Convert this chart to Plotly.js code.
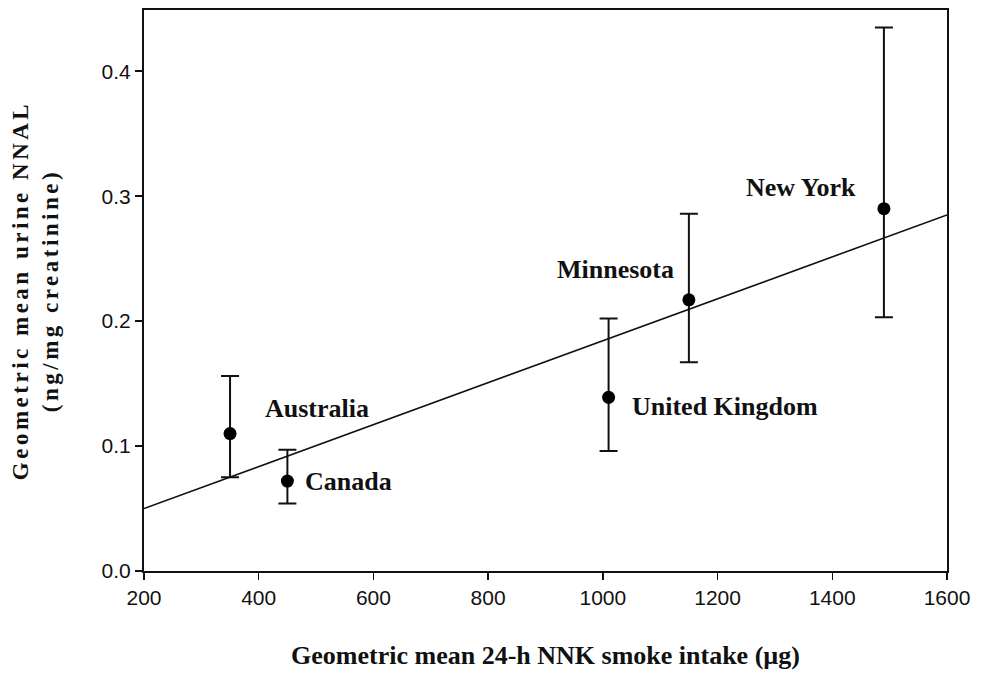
<!DOCTYPE html>
<html>
<head>
<meta charset="utf-8">
<script src="https://cdn.plot.ly/plotly-3.0.1.min.js"></script>
<style>
html,body{margin:0;padding:0;background:#fff;}
#chart{width:982px;height:675px;}
#chart .g-ytitle text{letter-spacing:3.5px;}
</style>
</head>
<body>
<div id="chart"></div>
<script>
// Data
const regions = ["Australia", "Canada", "United Kingdom", "Minnesota", "New York"];
const nnkIntake = [350, 450, 1010, 1150, 1490];
const nnalMean = [0.110, 0.072, 0.139, 0.217, 0.290];
const nnalUpper = [0.156, 0.097, 0.202, 0.286, 0.435];
const nnalLower = [0.075, 0.054, 0.096, 0.167, 0.203];
const fitX = [200, 1600];
const fitY = [0.050, 0.285];
const xTicks = [200, 400, 600, 800, 1000, 1200, 1400, 1600];
const yTicks = [0.0, 0.1, 0.2, 0.3, 0.4];

const errPlus = nnalUpper.map((u, i) => u - nnalMean[i]);
const errMinus = nnalMean.map((m, i) => m - nnalLower[i]);

const traces = [
  {
    x: fitX, y: fitY, mode: 'lines', type: 'scatter',
    line: {color: '#111', width: 1.6}, hoverinfo: 'skip', showlegend: false
  },
  {
    x: nnkIntake, y: nnalMean, text: regions, mode: 'markers', type: 'scatter',
    marker: {color: '#000', size: 13},
    error_y: {type: 'data', symmetric: false, array: errPlus, arrayminus: errMinus,
              color: '#111', thickness: 2, width: 9},
    showlegend: false
  }
];

const serif = '"Liberation Serif", "Times New Roman", serif';
const lab = (text, x, y, xanchor) => ({
  text: '<b>' + text + '</b>', x: x, y: y, xref: 'x', yref: 'y',
  xanchor: xanchor, yanchor: 'middle', showarrow: false,
  font: {family: serif, size: 26, color: '#111'}
});

const layout = {
  width: 982, height: 675,
  margin: {l: 144, r: 35, t: 10, b: 104},
  paper_bgcolor: '#fff', plot_bgcolor: '#fff',
  font: {family: '"Liberation Sans", Arial, sans-serif', color: '#111'},
  xaxis: {
    range: [200, 1600], tickvals: xTicks, ticktext: xTicks.map(String),
    ticks: 'outside', ticklen: 7, tickwidth: 1.5, tickcolor: '#111',
    showline: true, linecolor: '#111', linewidth: 2, mirror: true,
    showgrid: false, zeroline: false,
    tickfont: {size: 21, color: '#111'},
    title: {text: '<b>Geometric mean 24-h NNK smoke intake (µg)</b>',
            font: {family: serif, size: 26, color: '#111'}, standoff: 38}
  },
  yaxis: {
    range: [0, 0.449], tickvals: yTicks, ticktext: yTicks.map(v => v.toFixed(1)),
    ticks: 'outside', ticklen: 7, tickwidth: 1.5, tickcolor: '#111',
    showline: true, linecolor: '#111', linewidth: 2, mirror: true,
    showgrid: false, zeroline: false,
    tickfont: {size: 21, color: '#111'},
    title: {text: '<b>Geometric mean urine NNAL<br>(ng/mg creatinine)</b>',
            font: {family: serif, size: 23, color: '#111'}, standoff: 37}
  },
  annotations: [
    lab('Australia', 407, 0.130, 'left'),
    lab('Canada', 477, 0.072, 'left'),
    lab('United Kingdom', 1047, 0.132, 'left'),
    lab('Minnesota', 1127, 0.241, 'right'),
    lab('New York', 1445, 0.307, 'right')
  ]
};

Plotly.newPlot('chart', traces, layout, {displayModeBar: false, staticPlot: true});
</script>
</body>
</html>
